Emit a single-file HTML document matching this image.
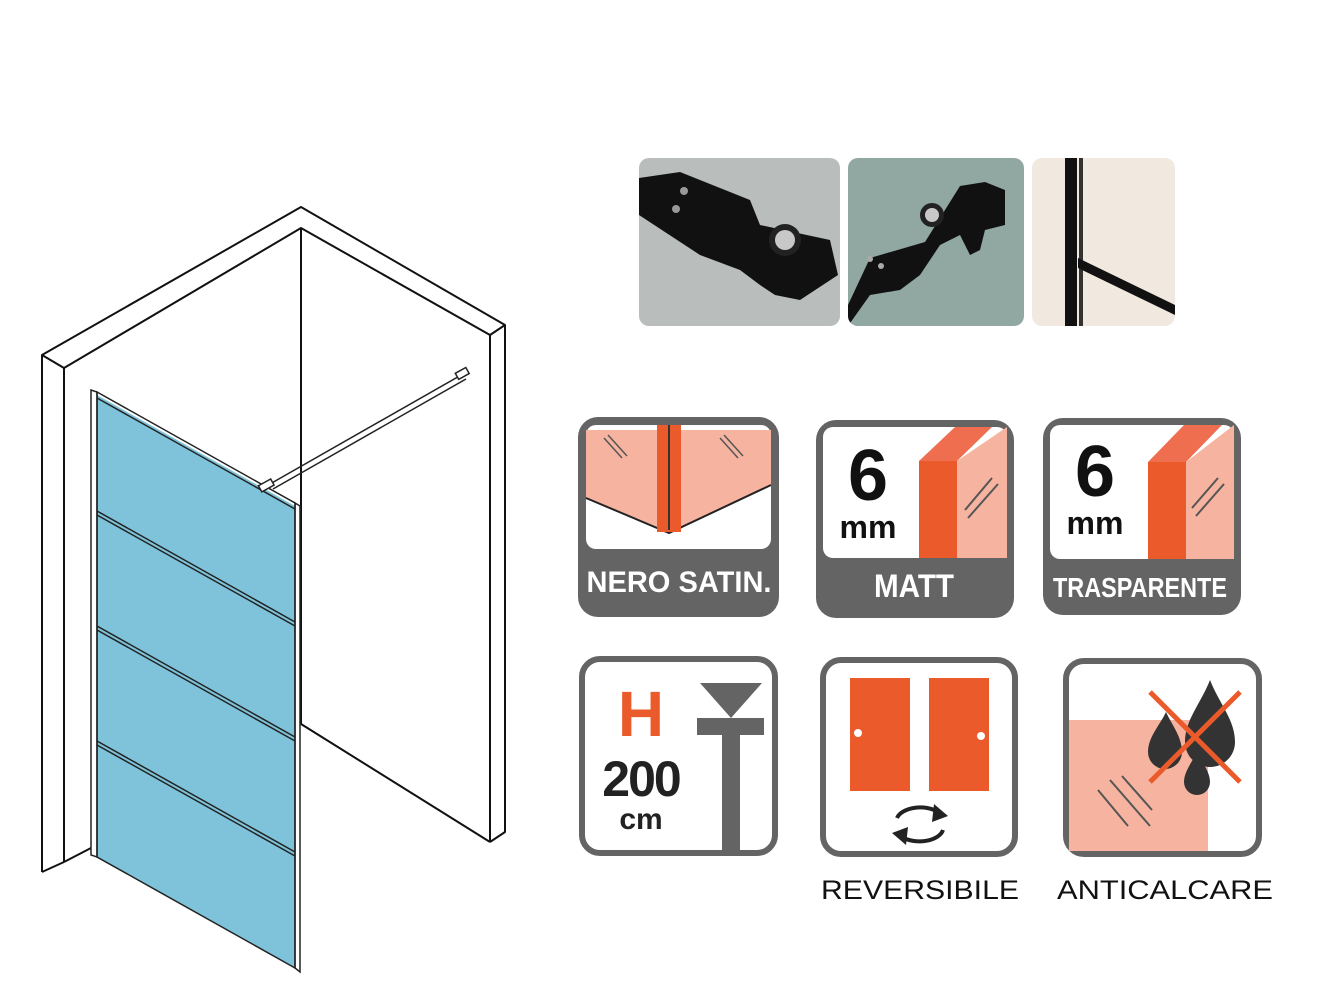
<!DOCTYPE html>
<html><head><meta charset="utf-8"><style>
html,body{margin:0;padding:0;background:#fff;}
svg{display:block;}
.b{font-family:"Liberation Sans",sans-serif;font-weight:bold;}
</style></head><body>
<svg width="1334" height="1000" viewBox="0 0 1334 1000" xmlns="http://www.w3.org/2000/svg">
<!-- walls -->
<g fill="none" stroke="#111" stroke-width="2" stroke-linejoin="round">
<polyline points="42,872 42,355 301,207 505,325 505,832 490,842"/>
<polyline points="64,862 64,368 301,228 490,335 490,842"/>
<line x1="42" y1="355" x2="64" y2="368"/>
<line x1="490" y1="335" x2="505" y2="325"/>
<line x1="42" y1="872" x2="64" y2="862"/>
<line x1="64" y1="862" x2="91" y2="848"/>
<line x1="301" y1="228" x2="301" y2="724"/>
<line x1="301" y1="724" x2="490" y2="842"/>
</g>
<!-- panel -->
<polygon points="97,395 295,506 295,968 97,857" fill="#7fc3da"/>
<g fill="none" stroke="#222" stroke-width="1.5">
<polygon points="91,390 97,392 97,857 91,855"/>
<polygon points="97,392 295,503 295,968 97,857"/>
<polygon points="295,503 300,506 300,972 295,968"/>
<line x1="97" y1="398" x2="295" y2="509"/>
<line x1="97" y1="511" x2="295" y2="622"/><line x1="97" y1="515" x2="295" y2="626"/>
<line x1="97" y1="626" x2="295" y2="737"/><line x1="97" y1="630" x2="295" y2="741"/>
<line x1="97" y1="741" x2="295" y2="852"/><line x1="97" y1="745" x2="295" y2="856"/>
<line x1="270" y1="484" x2="463" y2="374"/><line x1="273" y1="489" x2="466" y2="379"/>
<rect x="259" y="482" width="14" height="7" fill="#fff" transform="rotate(-29 266 485)"/>
<rect x="456" y="370" width="12" height="7" fill="#fff" transform="rotate(-29 462 373)"/>
</g>
<!-- photos -->
<defs>
<clipPath id="p1"><rect x="639" y="158" width="201" height="168" rx="10"/></clipPath>
<clipPath id="p2"><rect x="848" y="158" width="176" height="168" rx="10"/></clipPath>
<clipPath id="p3"><rect x="1032" y="158" width="143" height="168" rx="10"/></clipPath>
</defs>
<g clip-path="url(#p1)">
<rect x="639" y="158" width="201" height="168" fill="#b9bdbc"/>
<polygon points="639,178 680,172 750,200 760,225 830,240 838,275 800,300 775,295 760,285 740,270 700,255 639,215" fill="#111"/>
<circle cx="785" cy="240" r="16" fill="#222"/><circle cx="785" cy="240" r="10" fill="#c8c8c8"/>
<circle cx="684" cy="191" r="4" fill="#999"/><circle cx="676" cy="209" r="4" fill="#999"/>
</g>
<g clip-path="url(#p2)">
<rect x="848" y="158" width="176" height="168" fill="#90a7a2"/>
<polygon points="848,305 870,258 925,242 960,186 985,182 1005,190 1005,225 985,230 980,250 970,255 960,235 940,245 920,275 900,290 870,295 848,326" fill="#111"/>
<circle cx="932" cy="215" r="12" fill="#222"/><circle cx="932" cy="215" r="7" fill="#c8c8c8"/>
<circle cx="870" cy="259" r="3" fill="#aaa"/><circle cx="881" cy="266" r="3" fill="#aaa"/>
</g>
<g clip-path="url(#p3)">
<rect x="1032" y="158" width="143" height="168" fill="#f1e8df"/>
<rect x="1065" y="158" width="12" height="168" fill="#111"/>
<rect x="1079" y="158" width="4" height="168" fill="#333"/>
<polygon points="1078,258 1175,305 1175,315 1078,268" fill="#111"/>
</g>
<!-- icon 1 -->
<rect x="578" y="417" width="201" height="200" rx="20" fill="#646464"/>
<rect x="586" y="425" width="185" height="124" rx="10" fill="#fff"/>
<polygon points="586,430 586,498 669,533 771,485 771,430" fill="#f6b4a0"/>
<polyline points="586,498 669,533 771,485" fill="none" stroke="#222" stroke-width="2"/>
<rect x="657" y="425" width="24" height="107" fill="#ea5a2a"/>
<line x1="669" y1="425" x2="669" y2="530" stroke="#333" stroke-width="2"/>
<g stroke="#555" stroke-width="1.5"><line x1="604" y1="438" x2="622" y2="458"/><line x1="608" y1="435" x2="627" y2="456"/><line x1="720" y1="438" x2="738" y2="458"/><line x1="724" y1="435" x2="743" y2="456"/></g>
<text x="679" y="592" text-anchor="middle" class="b" font-size="30" fill="#fff" textLength="185" lengthAdjust="spacingAndGlyphs">NERO SATIN.</text>
<!-- icon 2 -->
<rect x="816" y="420" width="198" height="198" rx="20" fill="#646464"/>
<rect x="823" y="427" width="184" height="131" rx="10" fill="#fff"/>
<polygon points="957,461 1007,427 1007,558 957,558" fill="#f6b4a0"/>
<polygon points="919,461 957,461 992,427 955,427" fill="#ef6e4f"/>
<rect x="919" y="461" width="38" height="97" fill="#ea5a2a"/>
<g stroke="#555" stroke-width="2"><line x1="965" y1="510" x2="992" y2="478"/><line x1="968" y1="518" x2="998" y2="484"/></g>
<text x="868" y="500" text-anchor="middle" class="b" font-size="72" fill="#111">6</text>
<text x="868" y="538" text-anchor="middle" class="b" font-size="32" fill="#111">mm</text>
<text x="914" y="597" text-anchor="middle" class="b" font-size="32" fill="#fff" textLength="80" lengthAdjust="spacingAndGlyphs">MATT</text>
<!-- icon 3 -->
<rect x="1043" y="418" width="198" height="197" rx="20" fill="#646464"/>
<rect x="1050" y="425" width="184" height="134" rx="10" fill="#fff"/>
<polygon points="1186,462 1234,425 1234,559 1186,559" fill="#f6b4a0"/>
<polygon points="1148,462 1186,462 1222,425 1184,425" fill="#ef6e4f"/>
<rect x="1148" y="462" width="38" height="97" fill="#ea5a2a"/>
<g stroke="#555" stroke-width="2"><line x1="1192" y1="508" x2="1218" y2="478"/><line x1="1196" y1="516" x2="1224" y2="484"/></g>
<text x="1095" y="496" text-anchor="middle" class="b" font-size="72" fill="#111">6</text>
<text x="1095" y="534" text-anchor="middle" class="b" font-size="32" fill="#111">mm</text>
<text x="1140" y="597" text-anchor="middle" class="b" font-size="28" fill="#fff" textLength="174" lengthAdjust="spacingAndGlyphs">TRASPARENTE</text>
<!-- icon 4 -->
<rect x="582" y="659" width="193" height="194" rx="18" fill="#fff" stroke="#646464" stroke-width="6"/>
<text x="641" y="736" text-anchor="middle" class="b" font-size="64" fill="#ea5a2a">H</text>
<text x="641" y="796" text-anchor="middle" class="b" font-size="50" fill="#222" letter-spacing="-2">200</text>
<text x="641" y="829" text-anchor="middle" class="b" font-size="30" fill="#222">cm</text>
<polygon points="700,683 762,683 731,718" fill="#646464"/>
<rect x="697" y="718" width="67" height="17" fill="#646464"/>
<rect x="722" y="735" width="18" height="116" fill="#646464"/>
<!-- icon 5 -->
<rect x="823" y="660" width="192" height="194" rx="18" fill="#fff" stroke="#646464" stroke-width="6"/>
<rect x="850" y="678" width="60" height="113" fill="#ea5a2a"/>
<rect x="929" y="678" width="60" height="113" fill="#ea5a2a"/>
<circle cx="858" cy="733" r="4" fill="#fff"/><circle cx="981" cy="736" r="4" fill="#fff"/>
<g fill="none" stroke="#222" stroke-width="4">
<path d="M897,818 A24,14 0 0 1 938,812"/>
<path d="M943,830 A24,14 0 0 1 902,837"/>
</g>
<polygon points="934,804 948,816 932,822" fill="#222"/>
<polygon points="906,845 892,833 908,827" fill="#222"/>
<text x="920" y="899" text-anchor="middle" font-family="Liberation Sans,sans-serif" font-size="27" fill="#111" textLength="198" lengthAdjust="spacingAndGlyphs">REVERSIBILE</text>
<!-- icon 6 -->
<rect x="1066" y="661" width="193" height="193" rx="18" fill="#fff" stroke="#646464" stroke-width="6"/>
<rect x="1069" y="720" width="139" height="131" fill="#f6b4a0"/>
<g fill="#333">
<path d="M1210,680 C1200,705 1185,720 1185,742 A25,25 0 0 0 1235,742 C1235,720 1220,705 1210,680Z"/>
<path d="M1166,712 C1160,725 1148,737 1148,752 A17,17 0 0 0 1182,752 C1182,737 1172,725 1166,712Z"/>
<path d="M1197,752 C1192,762 1184,772 1184,782 A13,13 0 0 0 1210,782 C1210,772 1202,762 1197,752Z"/>
</g>
<g stroke="#ea5a2a" stroke-width="5"><line x1="1150" y1="692" x2="1240" y2="782"/><line x1="1240" y1="692" x2="1150" y2="782"/></g>
<g stroke="#555" stroke-width="2"><line x1="1098" y1="790" x2="1128" y2="826"/><line x1="1110" y1="780" x2="1150" y2="826"/><line x1="1122" y1="776" x2="1152" y2="810"/></g>
<text x="1165" y="899" text-anchor="middle" font-family="Liberation Sans,sans-serif" font-size="27" fill="#111" textLength="216" lengthAdjust="spacingAndGlyphs">ANTICALCARE</text>
</svg>
</body></html>
